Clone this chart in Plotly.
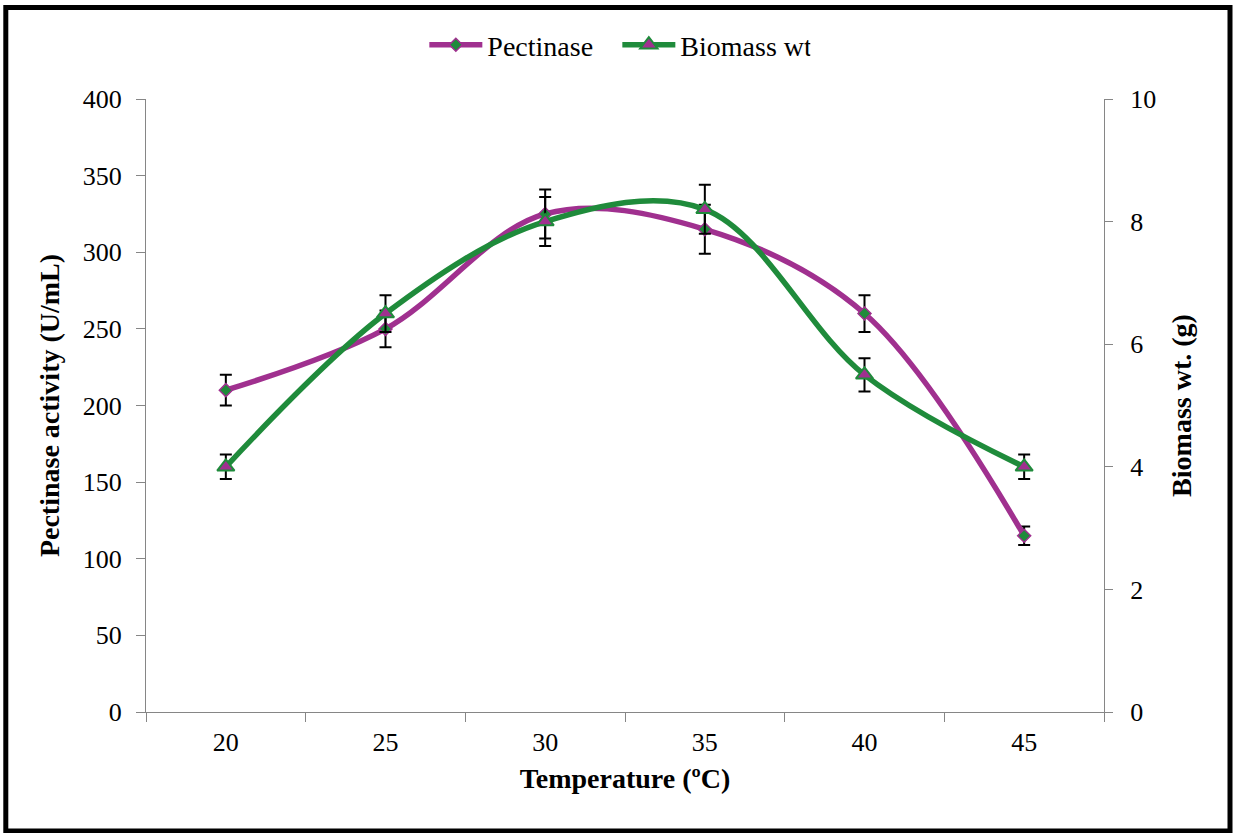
import plotly.graph_objects as go

temps = ["20", "25", "30", "35", "40", "45"]
pectinase = [210, 250, 325, 315, 260, 115]
pectinase_err = [10, 12, 16, 16, 12, 6]
biomass = [4.0, 6.5, 8.0, 8.2, 5.5, 4.0]
biomass_err = [0.2, 0.3, 0.4, 0.4, 0.27, 0.2]

left_ticks = [0, 50, 100, 150, 200, 250, 300, 350, 400]
right_ticks = [0, 2, 4, 6, 8, 10]

PURPLE = "#A0308F"
GREEN = "#1F8B3B"
FONT = "Liberation Serif"
W, H = 1233, 833
L, R, T, B = 146, 129, 99, 121
PW, PH = W - L - R, H - T - B


def reg(size):
    return dict(family=FONT, size=size, color="black", weight=400, style="normal")


def bold(size):
    return dict(family=FONT, size=size, color="black", weight=700, style="normal")


fig = go.Figure()
fig.add_trace(go.Scatter(
    x=temps, y=pectinase, name="Pectinase", mode="lines+markers",
    line=dict(color=PURPLE, width=5.5, shape="spline", smoothing=1),
    marker=dict(symbol="diamond", size=10, color=GREEN, line=dict(color=PURPLE, width=1.5)),
    error_y=dict(type="data", array=pectinase_err, color="black", thickness=2, width=6),
))
fig.add_trace(go.Scatter(
    x=temps, y=biomass, name="Biomass wt", mode="lines+markers", yaxis="y2",
    line=dict(color=GREEN, width=5.5, shape="spline", smoothing=1),
    marker=dict(symbol="triangle-up", size=15, color=PURPLE, line=dict(color=GREEN, width=2)),
    error_y=dict(type="data", array=biomass_err, color="black", thickness=2, width=6),
))


def px(x):
    return (x - L) / PW


def py(y):
    return (H - B - y) / PH


fig.update_layout(
    width=W, height=H,
    margin=dict(l=L, r=R, t=T, b=B, pad=0),
    paper_bgcolor="white", plot_bgcolor="white",
    font=reg(27),
    showlegend=True,
    legend=dict(orientation="h", x=0.492, y=py(45), xanchor="center", yanchor="middle",
                font=reg(28), itemwidth=53, entrywidth=125, entrywidthmode="pixels",
                bgcolor="rgba(0,0,0,0)"),
    xaxis=dict(
        type="category", tickson="boundaries", ticks="outside", ticklen=9,
        tickcolor="#868686", tickwidth=1, showline=True, linecolor="#868686", linewidth=1,
        showgrid=False, zeroline=False, tickfont=reg(26),
        ticklabelstandoff=7,
        title=dict(text="Temperature (ºC)", font=bold(28), standoff=12),
        range=[-0.5, 5.5],
    ),
    yaxis=dict(
        range=[0, 400], tickvals=left_ticks, ticks="outside", ticklen=9,
        tickcolor="#868686", showline=True, linecolor="#868686", linewidth=1,
        showgrid=False, zeroline=False, tickfont=reg(26),
        ticklabelstandoff=9,
        title=dict(text="Pectinase activity (U/mL)", font=bold(28), standoff=14),
    ),
    yaxis2=dict(
        range=[0, 10], tickvals=right_ticks, overlaying="y", side="right", ticks="outside", ticklen=8,
        tickcolor="#868686", showline=True, linecolor="#868686", linewidth=1,
        showgrid=False, zeroline=False, tickfont=reg(26),
        ticklabelstandoff=12,
        title=dict(text="Biomass wt. (g)", font=bold(28), standoff=16),
    ),
    shapes=[dict(type="rect", xref="paper", yref="paper",
                 x0=px(5.8), x1=px(1230), y0=py(831), y1=py(7.5),
                 line=dict(color="black", width=5), layer="below")],
)

fig.write_html("out.html")
